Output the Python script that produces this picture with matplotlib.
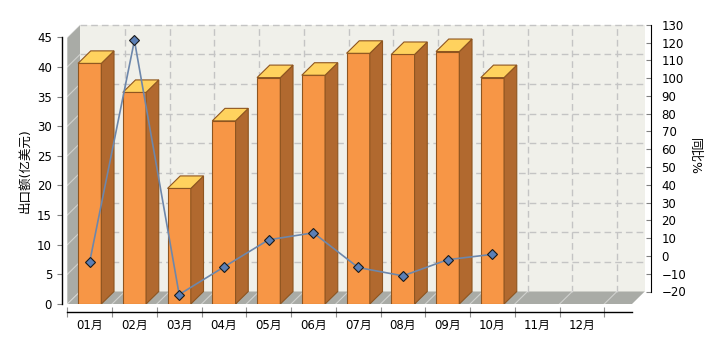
import matplotlib
matplotlib.use('Agg')
import matplotlib.pyplot as plt
from matplotlib.patches import Polygon, Rectangle

plt.rcParams['font.family'] = ['DejaVu Sans', 'Noto Sans CJK SC']

# ---------------- data ----------------
months = ['01月', '02月', '03月', '04月', '05月', '06月',
          '07月', '08月', '09月', '10月', '11月', '12月']
export_value = [40.6, 35.7, 19.5, 30.9, 38.2, 38.6, 42.3, 42.1, 42.6, 38.2]
yoy_pct = [-3.4, 121.2, -21.7, -6.2, 9.1, 13.0, -6.5, -11.2, -2.1, 0.9]
left_ticks = list(range(0, 50, 5))
right_ticks = list(range(-20, 140, 10))
left_label = '出口额(亿美元)'
right_label = '同比%'

# ---------------- geometry (pixels) ----------------
W, H = 720, 340
X0, X1 = 67.3, 632.0      # front plot extent
Y0, Y1 = 304.0, 37.3      # pixel rows of 0 and 45 on left axis
CAT = 44.75               # pixels per category
DXP, DYP = 12.7, 12.5     # 3-D depth offset

def fx(px):
    return px / W

def fy(py):
    return 1 - py / H

fig = plt.figure(figsize=(7.2, 3.4), dpi=100)
fig.patch.set_facecolor('white')

ax = fig.add_axes([fx(X0), fy(Y0), (X1 - X0) / W, (Y0 - Y1) / H])
xmin = -0.5
xmax = -0.5 + (X1 - X0) / CAT
ax.set_xlim(xmin, xmax)
ax.set_ylim(0, 45)
ppu_y = (Y0 - Y1) / 45
DX = DXP / CAT
DY = DYP / ppu_y
ax.patch.set_visible(False)

wall_c = '#a9aba6'
back_c = '#f0f0ea'
grid_c = '#c4c4c4'

# back wall
ax.add_patch(Rectangle((xmin + DX, DY), xmax - xmin, 45, facecolor=back_c,
                       edgecolor='none', zorder=0.5, clip_on=False))
# left wall
ax.add_patch(Polygon([(xmin, 0), (xmin, 45), (xmin + DX, 45 + DY), (xmin + DX, DY)],
                     closed=True, facecolor=wall_c, edgecolor='none', zorder=0.6, clip_on=False))
# floor
ax.add_patch(Polygon([(xmin, 0), (xmax, 0), (xmax + DX, DY), (xmin + DX, DY)],
                     closed=True, facecolor=wall_c, edgecolor='none', zorder=0.6, clip_on=False))

# grid on back wall
for v in left_ticks[1:]:
    ax.plot([xmin + DX, xmax + DX], [v + DY, v + DY], color=grid_c, lw=1.0,
            dashes=(4.8, 2.9), zorder=0.7, clip_on=False)
    ax.plot([xmin, xmin + DX], [v, v + DY], color='white', lw=0.8, alpha=0.45,
            zorder=0.7, clip_on=False)
for b in range(len(months)):
    xb = b + 0.5
    ax.plot([xb + DX, xb + DX], [DY, 45 + DY], color=grid_c, lw=1.0,
            dashes=(4.8, 2.9), zorder=0.7, clip_on=False)
    ax.plot([xb - 1, xb - 1 + DX], [0, DY], color='white', lw=0.8, alpha=0.45,
            zorder=0.7, clip_on=False)
ax.plot([xmax - 0.62, xmax - 0.62 + DX], [0, DY], color='white', lw=0.8, alpha=0.45,
        zorder=0.7, clip_on=False)

# bars
front_c = '#f79646'
side_c = '#b1692f'
top_c = '#ffd25e'
edge_c = '#8e5520'
hw = 0.26
for i, v in enumerate(export_value):
    ax.add_patch(Rectangle((i - hw, 0), 2 * hw, v, facecolor=front_c, edgecolor=edge_c,
                           lw=0.8, zorder=2))
    ax.add_patch(Polygon([(i + hw, 0), (i + hw + DX, DY), (i + hw + DX, v + DY), (i + hw, v)],
                         closed=True, facecolor=side_c, edgecolor=edge_c, lw=0.8, zorder=2))
    ax.add_patch(Polygon([(i - hw, v), (i + hw, v), (i + hw + DX, v + DY), (i - hw + DX, v + DY)],
                         closed=True, facecolor=top_c, edgecolor=edge_c, lw=0.8, zorder=2,
                         clip_on=False))

# left axis styling
for s in ['top', 'right']:
    ax.spines[s].set_visible(False)
ax.spines['left'].set_position(('outward', 4.0))
ax.spines['bottom'].set_position(('outward', 5.5))
ax.spines['left'].set_linewidth(1.0)
ax.spines['bottom'].set_linewidth(1.0)
ax.set_yticks(left_ticks)
ax.tick_params(axis='y', direction='out', length=3.6, width=0.8, color='#808080',
               labelsize=8.5, pad=3.4)
ax.set_xticks([b - 0.5 for b in range(len(months) + 1)])
ax.set_xticklabels([])
ax.set_xticks(range(len(months)), minor=True)
ax.set_xticklabels(months, minor=True, fontsize=8.5)
ax.tick_params(axis='x', which='major', direction='inout', length=6.5, width=0.8, color='#909090')
ax.tick_params(axis='x', which='minor', length=0, pad=5)

# right axis (back plane)
ax2 = fig.add_axes([fx(X0 + DXP), fy(Y0 - DYP), (X1 - X0) / W, (Y0 - Y1) / H])
ax2.set_xlim(xmin + DX, xmax + DX)
ax2.set_ylim(-20, 130)
ax2.patch.set_visible(False)
for s in ['top', 'left', 'bottom']:
    ax2.spines[s].set_visible(False)
ax2.spines['right'].set_position(('outward', 4.3))
ax2.xaxis.set_visible(False)
ax2.yaxis.tick_right()
ax2.set_yticks(right_ticks)
ax2.tick_params(axis='y', direction='in', length=3.6, width=0.8, color='#808080',
                labelsize=8.5, pad=7.8)

xs = list(range(len(yoy_pct)))
ax2.plot(xs, yoy_pct, color='#6d87ab', lw=1.2, zorder=3, clip_on=False)
ax2.plot(xs, yoy_pct, linestyle='none', marker='D', markersize=5.2,
         markerfacecolor='#5b7fb6', markeredgecolor='#1a1a1a', markeredgewidth=0.8,
         zorder=4, clip_on=False)

fig.text(fx(25), fy(171), left_label, rotation=90, ha='center', va='center', fontsize=9)
fig.text(fx(695), fy(157), right_label, rotation=270, ha='center', va='center', fontsize=9)

fig.savefig('out.png', dpi=100)
